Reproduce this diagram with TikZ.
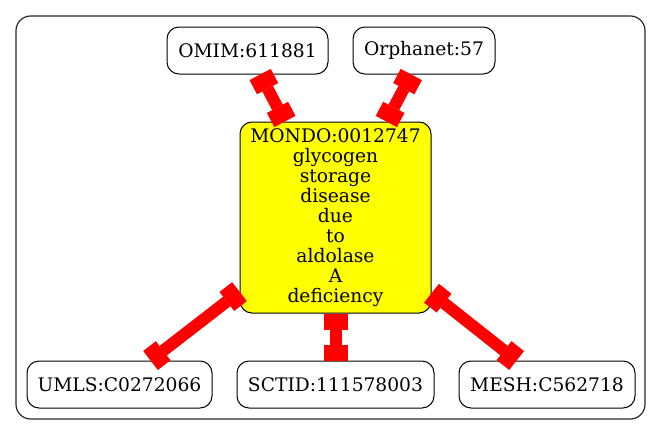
\documentclass[tikz,border=0pt]{standalone}
\usepackage{fontspec}
\setmainfont{DejaVu Serif}
\usetikzlibrary{arrows.meta}
\definecolor{hubyellow}{RGB}{255,255,0}
\definecolor{linkred}{RGB}{255,0,0}
\begin{document}
\begin{tikzpicture}[x=0.75pt,y=-0.75pt,
  every node/.style={font=\fontsize{14pt}{15pt}\selectfont},
  term/.style={draw=black,line width=0.75pt,rounded corners=9pt,fill=white,inner sep=0pt,minimum height=35.25pt,align=center},
  hub/.style={term,fill=hubyellow,minimum width=143.25pt,minimum height=143.25pt},
  link/.style={draw=linkred,line width=9pt,{Square[length=12pt,width=18pt,line width=0pt]}-{Square[length=12pt,width=18pt,line width=0pt]}}]
\useasboundingbox (0,0) rectangle (661,436);
\draw[line width=0.9pt,rounded corners=11pt,draw=black!85] (16,16) rectangle (645,419);
\node[term,minimum width=120.75pt] (omim) at (247.5,50.5) {OMIM:611881};
\node[term,minimum width=106.5pt] (orpha) at (424,50.5) {Orphanet:57};
\node[hub] (mondo) at (335.5,217.5) {MONDO:0012747\\glycogen\\storage\\disease\\due\\to\\aldolase\\A\\deficiency};
\node[term,minimum width=138.75pt] (umls) at (119.5,384.5) {UMLS:C0272066};
\node[term,minimum width=147.75pt] (sctid) at (335.5,384.5) {SCTID:111578003};
\node[term,minimum width=132pt] (mesh) at (547,384.5) {MESH:C562718};
\draw[link] (omim) -- (mondo);
\draw[link] (orpha) -- (mondo);
\draw[link] (mondo) -- (umls);
\draw[link] (mondo) -- (sctid);
\draw[link] (mondo) -- (mesh);
\end{tikzpicture}
\end{document}
